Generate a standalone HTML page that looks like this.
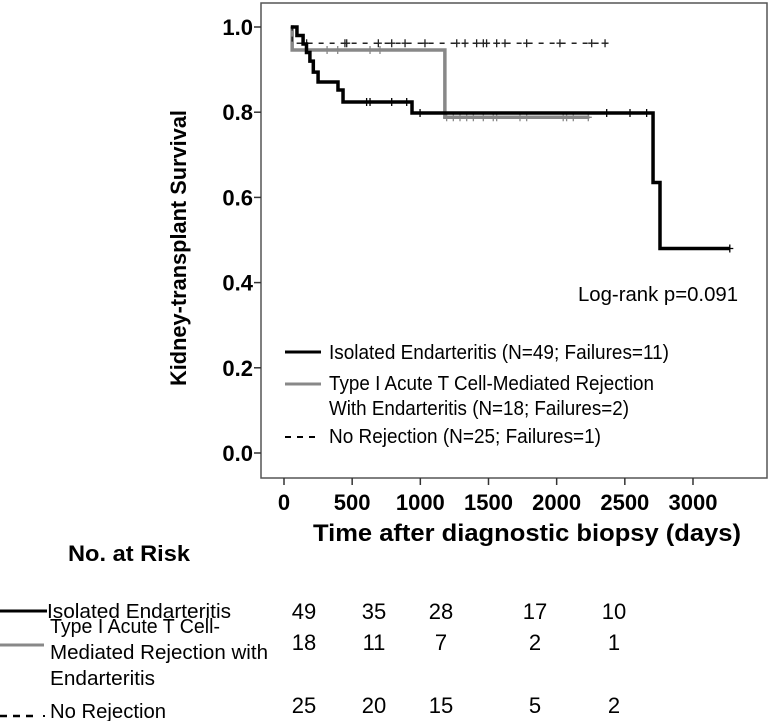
<!DOCTYPE html>
<html><head><meta charset="utf-8"><style>
html,body{margin:0;padding:0;background:#fff;}
svg{display:block;font-family:"Liberation Sans",Arial,sans-serif;}
</style></head><body>
<svg id="chart" width="773" height="721" viewBox="0 0 773 721">
<rect x="261" y="3" width="506" height="475" fill="#fff" stroke="#555" stroke-width="1.5"/>
<g id="axes"></g>
<g id="curves"></g>
<text x="186" y="248" transform="rotate(-90 186 248)" text-anchor="middle" font-size="22" font-weight="bold" textLength="276" lengthAdjust="spacingAndGlyphs">Kidney-transplant Survival</text>
<text x="527" y="541" text-anchor="middle" font-size="24" font-weight="bold" textLength="428" lengthAdjust="spacingAndGlyphs">Time after diagnostic biopsy (days)</text>
<text x="738" y="301" text-anchor="end" font-size="20" textLength="160" lengthAdjust="spacingAndGlyphs">Log-rank p=0.091</text>
<g font-size="20">
<line x1="285" y1="352" x2="321" y2="352" stroke="#000" stroke-width="3"/>
<text x="329" y="359" textLength="340" lengthAdjust="spacingAndGlyphs">Isolated Endarteritis (N=49; Failures=11)</text>
<line x1="285" y1="384" x2="321" y2="384" stroke="#888" stroke-width="3"/>
<text x="329" y="390" textLength="325" lengthAdjust="spacingAndGlyphs">Type I Acute T Cell-Mediated Rejection</text>
<text x="329" y="415" textLength="300" lengthAdjust="spacingAndGlyphs">With Endarteritis (N=18; Failures=2)</text>
<line x1="285" y1="437" x2="321" y2="437" stroke="#000" stroke-width="2" stroke-dasharray="6,6"/>
<text x="329" y="443" textLength="272" lengthAdjust="spacingAndGlyphs">No Rejection (N=25; Failures=1)</text>
</g>
<g font-size="20">
<text x="129" y="561" text-anchor="middle" font-weight="bold" font-size="22" textLength="122" lengthAdjust="spacingAndGlyphs">No. at Risk</text>
<line x1="0" y1="611" x2="47" y2="611" stroke="#000" stroke-width="3"/>
<text x="47" y="618" textLength="184" lengthAdjust="spacingAndGlyphs">Isolated Endarteritis</text>
<line x1="0" y1="645" x2="44" y2="645" stroke="#888" stroke-width="3"/>
<text x="50" y="633" textLength="170" lengthAdjust="spacingAndGlyphs">Type I Acute T Cell-</text>
<text x="50" y="659" textLength="218" lengthAdjust="spacingAndGlyphs">Mediated Rejection with</text>
<text x="50" y="685" textLength="105" lengthAdjust="spacingAndGlyphs">Endarteritis</text>
<line x1="0" y1="716" x2="34" y2="716" stroke="#000" stroke-width="2.5" stroke-dasharray="7,6"/>
<line x1="43" y1="716" x2="45" y2="716" stroke="#000" stroke-width="2"/>
<text x="50" y="718" textLength="116" lengthAdjust="spacingAndGlyphs">No Rejection</text>
<g id="riskNums"></g>
</g>
</svg>
<script>
var xTicks=[0,500,1000,1500,2000,2500,3000];
var yTicks=[0.0,0.2,0.4,0.6,0.8,1.0];
var isoStart=50, isoTimes=[95,140,165,190,215,250,396,433,939,2707,2758], isoSurv=[0.98,0.96,0.94,0.92,0.894,0.871,0.852,0.824,0.798,0.635,0.48], isoEnd=3270;
var isoCensor=[606,631,790,900,998,2367,2538,2660,3270];
var t1Start=50, t1Times=[60,1180], t1Surv=[0.946,0.788], t1End=2240;
var t1Censor=[316,394,631,704,1193,1242,1291,1340,1389,1462,1535,1560,1731,1780,2048,2073,2122,2232];
var nrStart=50, nrTimes=[60], nrSurv=[0.962], nrEnd=2370;
var nrCensor=[166,447,460,692,790,888,1034,1267,1328,1413,1462,1486,1560,1621,1780,2024,2257,2355];
var riskIso=[49,35,28,17,10], riskT1=[18,11,7,2,1], riskNr=[25,20,15,5,2];
var riskCols=[304,374,441,535,614], riskRows=[619,650,713];

var NS='http://www.w3.org/2000/svg';
function X(t){return 284+t*0.13633;}
function Y(s){return 453-s*426;}
function mk(tag,attrs,parent){var e=document.createElementNS(NS,tag);for(var k in attrs)e.setAttribute(k,attrs[k]);parent.appendChild(e);return e;}
var ax=document.getElementById('axes');
xTicks.forEach(function(t){
  var l=mk('line',{x1:X(t),x2:X(t),y1:478,y2:485,stroke:'#333','stroke-width':1.5},ax);
  
  
  var tx=mk('text',{x:X(t),y:510,'text-anchor':'middle','font-size':22,'font-weight':'bold'},ax);
  tx.textContent=t;
  
  
});
yTicks.forEach(function(v){
  var l=mk('line',{x1:254,x2:261,y1:Y(v),y2:Y(v),stroke:'#333','stroke-width':1.5},ax);
  
  
  var tx=mk('text',{x:253,y:Y(v)+8,'text-anchor':'end','font-size':22,'font-weight':'bold'},ax);
  tx.textContent=v.toFixed(1);
  
  
});
var cv=document.getElementById('curves');
function curve(start,times,surv,end,censor,color,w,dash,name){
  var d='M'+X(start)+','+Y(1);
  for(var i=0;i<times.length;i++){d+=' H'+X(times[i])+' V'+Y(surv[i]);}
  d+=' H'+X(end);
  var p=mk('path',{d:d,fill:'none',stroke:color,'stroke-width':w},cv);
  if(dash)p.setAttribute('stroke-dasharray',dash);
  
  
  censor.forEach(function(t){
    var sv=1.0;for(var i=0;i<times.length;i++){if(times[i]<=t)sv=surv[i];}
    var c=mk('path',{d:'M'+(X(t)-3.5)+','+Y(sv)+' h7 M'+X(t)+','+(Y(sv)-4)+' v8',stroke:color,'stroke-width':1.3,fill:'none'},cv);
    
    
  });
}
curve(t1Start,t1Times,t1Surv,t1End,t1Censor,'#888',3.5,null,'type1');
curve(nrStart,nrTimes,nrSurv,nrEnd,nrCensor,'#222',1.5,'5,6','no-rejection');
curve(isoStart,isoTimes,isoSurv,isoEnd,isoCensor,'#000',3.5,null,'isolated');
var rn=document.getElementById('riskNums');
[riskIso,riskT1,riskNr].forEach(function(row,r){
  row.forEach(function(v,i){
    var tx=mk('text',{x:riskCols[i],y:riskRows[r],'text-anchor':'middle','font-size':22},rn);
    tx.textContent=v;
    
    
  });
});
</script>
</body></html>
